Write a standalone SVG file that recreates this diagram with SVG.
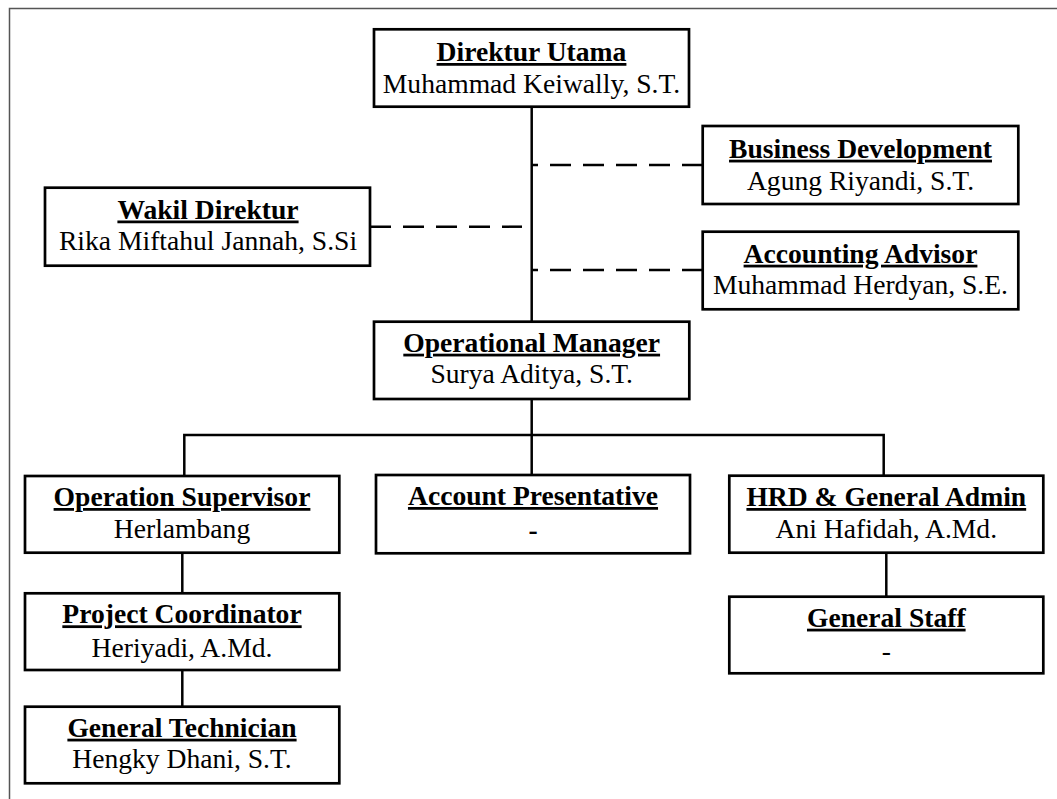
<svg xmlns="http://www.w3.org/2000/svg" width="1057" height="799" viewBox="0 0 1057 799">
  <style>
    .box { fill: #ffffff; stroke: #000000; stroke-width: 2.7; }
    .title { font-family: "Liberation Serif", "Times New Roman", serif; font-size: 27.6px; font-weight: bold; text-anchor: middle; text-decoration: underline; fill: #000000; }
    .name { font-family: "Liberation Serif", "Times New Roman", serif; font-size: 27.6px; text-anchor: middle; fill: #000000; }
    .bold { font-weight: bold; }
    .line { fill: none; stroke: #000000; stroke-width: 2.5; }
    .dash { fill: none; stroke: #000000; stroke-width: 2.5; stroke-dasharray: 21 12; }
  </style>

  <rect width="1057" height="799" fill="#ffffff"/>
  <!-- page frame -->
  <rect x="9.5" y="8.5" width="1100" height="900" fill="none" stroke="#555555" stroke-width="1.5"/>

  <g id="connectors">
    <!-- main trunk -->
    <line class="line" x1="531.7" y1="107" x2="531.7" y2="322"/>
    <line class="line" x1="531.7" y1="399" x2="531.7" y2="475"/>
    <!-- staff lines -->
    <line class="dash" x1="703" y1="165" x2="531.7" y2="165"/>
    <line class="dash" x1="703" y1="270" x2="531.7" y2="270"/>
    <line class="dash" x1="370" y1="226.7" x2="522" y2="226.7"/>
    <!-- branch bus -->
    <polyline class="line" points="184.3,476 184.3,435 883.7,435 883.7,476"/>
    <!-- sub-branches -->
    <line class="line" x1="182.3" y1="553" x2="182.3" y2="593"/>
    <line class="line" x1="182.3" y1="670" x2="182.3" y2="707"/>
    <line class="line" x1="886.3" y1="553" x2="886.3" y2="597"/>
  </g>

  <g id="direktur-utama">
    <rect class="box" x="374" y="29.3" width="315" height="77.4"/>
    <text class="title" x="531.5" y="61">Direktur Utama</text>
    <text class="name" x="531.5" y="92.7">Muhammad Keiwally, S.T.</text>
  </g>

  <g id="wakil-direktur">
    <rect class="box" x="45" y="187.7" width="325" height="78"/>
    <text class="title" x="208" y="218.5">Wakil Direktur</text>
    <text class="name" x="208" y="249.5">Rika Miftahul Jannah, S.Si</text>
  </g>

  <g id="business-development">
    <rect class="box" x="702.7" y="126" width="315.6" height="78"/>
    <text class="title" x="860.5" y="157.7">Business Development</text>
    <text class="name" x="860.5" y="190">Agung Riyandi, S.T.</text>
  </g>

  <g id="accounting-advisor">
    <rect class="box" x="702.7" y="231.7" width="315.6" height="77.6"/>
    <text class="title" x="860.5" y="262.7">Accounting Advisor</text>
    <text class="name" x="860.5" y="294.3">Muhammad Herdyan, S.E.</text>
  </g>

  <g id="operational-manager">
    <rect class="box" x="374" y="321.7" width="315.3" height="77.3"/>
    <text class="title" x="531.7" y="351.7">Operational Manager</text>
    <text class="name" x="531.7" y="383.3">Surya Aditya, S.T.</text>
  </g>

  <g id="account-presentative">
    <rect class="box" x="376" y="475" width="314" height="78.3"/>
    <text class="title" x="533" y="505">Account Presentative</text>
    <text class="name bold" x="533" y="539">-</text>
  </g>

  <g id="operation-supervisor">
    <rect class="box" x="25" y="476" width="314.3" height="76.7"/>
    <text class="title" x="182" y="506">Operation Supervisor</text>
    <text class="name" x="182" y="537.7">Herlambang</text>
  </g>

  <g id="project-coordinator">
    <rect class="box" x="25" y="593.3" width="314.3" height="76.7"/>
    <text class="title" x="182" y="623.3">Project Coordinator</text>
    <text class="name" x="182" y="656.7">Heriyadi, A.Md.</text>
  </g>

  <g id="general-technician">
    <rect class="box" x="25" y="706.7" width="314.3" height="76.6"/>
    <text class="title" x="182" y="736.7">General Technician</text>
    <text class="name" x="182" y="768.3">Hengky Dhani, S.T.</text>
  </g>

  <g id="hrd-general-admin">
    <rect class="box" x="729.3" y="475.7" width="314" height="77"/>
    <text class="title" x="886.3" y="506">HRD &amp; General Admin</text>
    <text class="name" x="886.3" y="538.3">Ani Hafidah, A.Md.</text>
  </g>

  <g id="general-staff">
    <rect class="box" x="729.3" y="596.7" width="314" height="76.6"/>
    <text class="title" x="886.3" y="626.7">General Staff</text>
    <text class="name" x="886.3" y="659.5">-</text>
  </g>
</svg>
